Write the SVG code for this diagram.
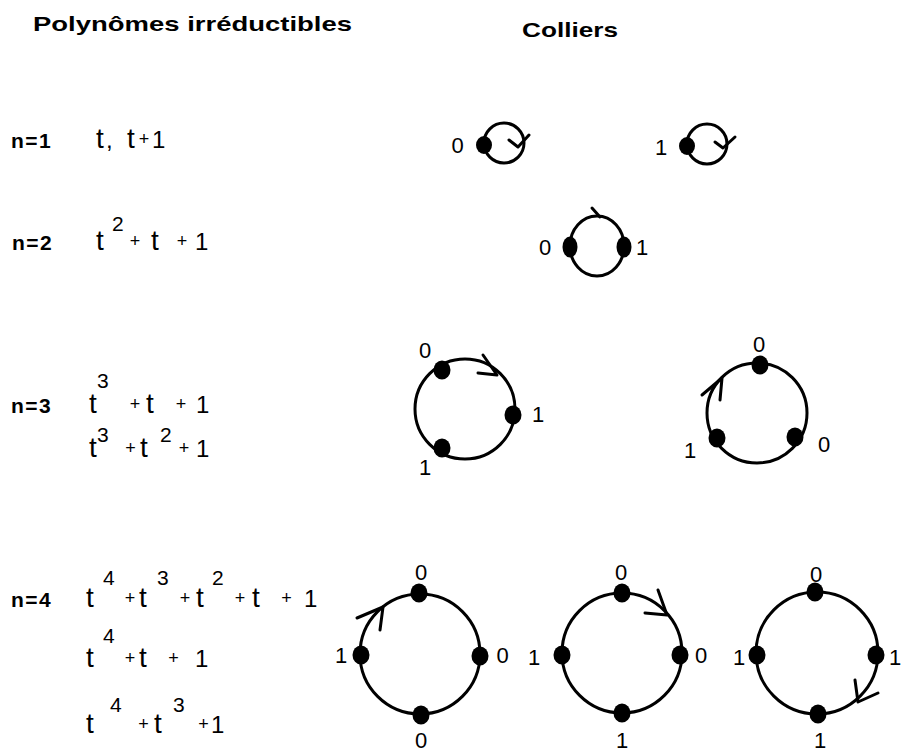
<svg xmlns="http://www.w3.org/2000/svg" width="901" height="752" viewBox="0 0 901 752">
<style>
.ttl{font-family:"Liberation Sans",Arial,sans-serif;font-weight:bold;font-size:21px;fill:#000}
.n{font-family:"Liberation Sans",Arial,sans-serif;font-weight:bold;font-size:21px;fill:#000;letter-spacing:1.5px}
.p{font-family:"Liberation Sans",Arial,sans-serif;font-size:24px;fill:#000}
.t{font-size:28px}
.s{font-size:21px}
.pl{font-size:18px}
.lb{font-family:"Liberation Sans",Arial,sans-serif;font-size:22px;fill:#000;text-anchor:middle}
.ring{fill:none;stroke:#000;stroke-width:3}
.arr{fill:none;stroke:#000;stroke-width:3;stroke-linecap:round;stroke-linejoin:round}
.dot{fill:#000}
</style>
<rect width="901" height="752" fill="#fff"/>
<g id="titles">
<text class="ttl" x="33" y="31" textLength="319" lengthAdjust="spacingAndGlyphs">Polynômes irréductibles</text>
<text class="ttl" x="522" y="37" textLength="96" lengthAdjust="spacingAndGlyphs">Colliers</text>
</g>
<g id="row-labels">
<text class="n" x="11" y="148">n=1</text>
<text class="n" x="12" y="250">n=2</text>
<text class="n" x="11" y="413">n=3</text>
<text class="n" x="11" y="607">n=4</text>
</g>
<g id="polynomials">
<text class="p" y="148"><tspan class="t" x="96">t</tspan><tspan x="106">,</tspan><tspan class="t" x="127">t</tspan><tspan class="pl" x="138.7" y="145">+</tspan><tspan x="152" y="148">1</tspan></text>
<text class="p" y="250"><tspan class="t" x="96">t</tspan><tspan class="s" x="112" y="231">2</tspan><tspan class="pl" x="129.7" y="247">+</tspan><tspan class="t" x="151" y="250">t</tspan><tspan class="pl" x="176.7" y="247">+</tspan><tspan x="195" y="250">1</tspan></text>
<text class="p" y="413"><tspan class="t" x="89">t</tspan><tspan class="s" x="97" y="388">3</tspan><tspan class="pl" x="129.7" y="410">+</tspan><tspan class="t" x="146" y="413">t</tspan><tspan class="pl" x="175.7" y="410">+</tspan><tspan x="196" y="413">1</tspan></text>
<text class="p" y="457"><tspan class="t" x="89">t</tspan><tspan class="s" x="97" y="442">3</tspan><tspan class="pl" x="125.2" y="454">+</tspan><tspan class="t" x="140" y="457">t</tspan><tspan class="s" x="160" y="442">2</tspan><tspan class="pl" x="178.7" y="454">+</tspan><tspan x="196" y="457">1</tspan></text>
<text class="p" y="607"><tspan class="t" x="86">t</tspan><tspan class="s" x="103" y="585">4</tspan><tspan class="pl" x="124.7" y="604">+</tspan><tspan class="t" x="139" y="607">t</tspan><tspan class="s" x="157" y="585">3</tspan><tspan class="pl" x="179.7" y="604">+</tspan><tspan class="t" x="196" y="607">t</tspan><tspan class="s" x="212" y="585">2</tspan><tspan class="pl" x="234.7" y="604">+</tspan><tspan class="t" x="252" y="607">t</tspan><tspan class="pl" x="281.2" y="604">+</tspan><tspan x="304" y="607">1</tspan></text>
<text class="p" y="667"><tspan class="t" x="86">t</tspan><tspan class="s" x="103" y="643">4</tspan><tspan class="pl" x="124.7" y="664">+</tspan><tspan class="t" x="139" y="667">t</tspan><tspan class="pl" x="168.2" y="664">+</tspan><tspan x="195" y="667">1</tspan></text>
<text class="p" y="733"><tspan class="t" x="86">t</tspan><tspan class="s" x="110" y="712">4</tspan><tspan class="pl" x="138.2" y="730">+</tspan><tspan class="t" x="154" y="733">t</tspan><tspan class="s" x="173" y="712">3</tspan><tspan class="pl" x="198.2" y="730">+</tspan><tspan x="211" y="733">1</tspan></text>
</g>
<g id="connectors">
<circle class="ring" cx="504" cy="143" r="20"/>
<polyline class="arr" points="509,140 518,147 529,135"/>
<circle class="ring" cx="707" cy="144" r="20"/>
<polyline class="arr" points="715,142 723,148 735,137"/>
<ellipse class="ring" cx="597" cy="246" rx="27" ry="30"/>
<line class="arr" x1="592" y1="208" x2="600" y2="217"/>
<circle class="ring" cx="465" cy="409" r="50"/>
<polyline class="arr" points="478,373 497,375 483,355"/>
<circle class="ring" cx="757" cy="413" r="50"/>
<polyline class="arr" points="702,395 722,378 720,400"/>
<circle class="ring" cx="420" cy="654" r="60"/>
<polyline class="arr" points="357,618 383,607 380,630"/>
<circle class="ring" cx="622" cy="653" r="60"/>
<polyline class="arr" points="645,613 667,615 658,590"/>
<circle class="ring" cx="817" cy="653" r="61"/>
<polyline class="arr" points="855,680 858,702 878,693"/>
</g>
<g id="n1-a"><ellipse class="dot" cx="484" cy="145" rx="8" ry="9"/><text class="lb" x="457.5" y="153">0</text></g>
<g id="n1-b"><ellipse class="dot" cx="687" cy="146" rx="8" ry="9"/><text class="lb" x="661" y="155">1</text></g>
<g id="n2-a"><ellipse class="dot" cx="570" cy="247" rx="7.5" ry="10.5"/><text class="lb" x="545" y="255">0</text><ellipse class="dot" cx="624" cy="247" rx="7.5" ry="10.5"/><text class="lb" x="642" y="255">1</text></g>
<g id="n3-a"><ellipse class="dot" cx="442" cy="370" rx="8.5" ry="9.5"/><ellipse class="dot" cx="513" cy="415" rx="8.5" ry="9.5"/><ellipse class="dot" cx="442" cy="448" rx="8.5" ry="9.5"/><text class="lb" x="425" y="358">0</text><text class="lb" x="538" y="422">1</text><text class="lb" x="425" y="475">1</text></g>
<g id="n3-b"><ellipse class="dot" cx="760" cy="365" rx="8.5" ry="9.5"/><ellipse class="dot" cx="795" cy="437" rx="8.5" ry="9.5"/><ellipse class="dot" cx="717" cy="438" rx="8.5" ry="9.5"/><text class="lb" x="759" y="352">0</text><text class="lb" x="824" y="452">0</text><text class="lb" x="690" y="458">1</text></g>
<g id="n4-a"><ellipse class="dot" cx="419" cy="593" rx="8.5" ry="9.5"/><ellipse class="dot" cx="480" cy="656" rx="8.5" ry="9.5"/><ellipse class="dot" cx="421" cy="715" rx="8.5" ry="9.5"/><ellipse class="dot" cx="361" cy="655" rx="8.5" ry="9.5"/><text class="lb" x="421" y="580">0</text><text class="lb" x="502.5" y="663">0</text><text class="lb" x="421" y="748">0</text><text class="lb" x="341" y="663">1</text></g>
<g id="n4-b"><ellipse class="dot" cx="622" cy="593" rx="8.5" ry="9.5"/><ellipse class="dot" cx="680" cy="655" rx="8.5" ry="9.5"/><ellipse class="dot" cx="622" cy="713" rx="8.5" ry="9.5"/><ellipse class="dot" cx="562" cy="655" rx="8.5" ry="9.5"/><text class="lb" x="621" y="580">0</text><text class="lb" x="701" y="663">0</text><text class="lb" x="534" y="665">1</text><text class="lb" x="622" y="748">1</text></g>
<g id="n4-c"><ellipse class="dot" cx="815" cy="592" rx="8.5" ry="9.5"/><ellipse class="dot" cx="876" cy="655" rx="8.5" ry="9.5"/><ellipse class="dot" cx="818" cy="714" rx="8.5" ry="9.5"/><ellipse class="dot" cx="757" cy="655" rx="8.5" ry="9.5"/><text class="lb" x="816" y="582">0</text><text class="lb" x="895" y="665">1</text><text class="lb" x="739" y="665">1</text><text class="lb" x="820" y="748">1</text></g>
</svg>
